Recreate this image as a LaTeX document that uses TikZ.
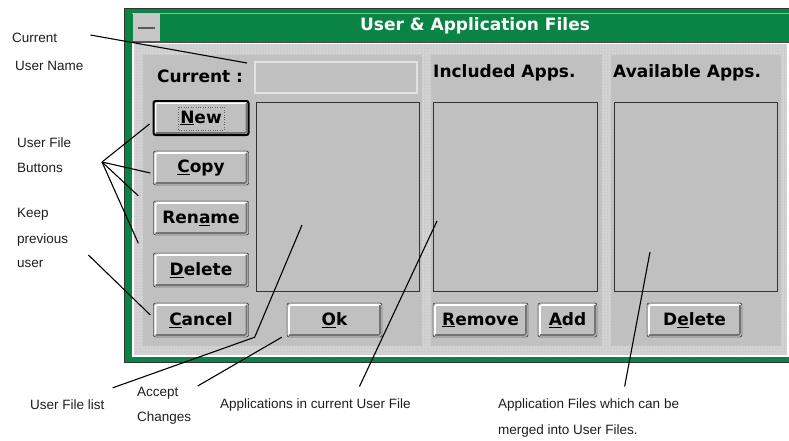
\documentclass[tikz,border=0pt]{standalone}
\usepackage{fontspec}
\usetikzlibrary{patterns}
\newfontfamily\uifont{DejaVu Sans}
\newfontfamily\notefont{Liberation Sans}

\begin{document}
\begin{tikzpicture}[x=1pt,y=-1pt,
  winbtn/.style={draw=black, fill=panelGray, rounded corners=2pt,
    minimum width=95pt, minimum height=34pt, inner sep=0pt,
    font=\uifont\bfseries\fontsize{17}{20}\selectfont,
    path picture={
      \draw[white, line width=1.6pt]
        ([shift={(2pt,2pt)}]path picture bounding box.south west)
        |- ([shift={(-2pt,-2pt)}]path picture bounding box.north east);
      \draw[black!55, line width=1.6pt]
        ([shift={(2pt,2pt)}]path picture bounding box.south west)
        -| ([shift={(-2pt,-2pt)}]path picture bounding box.north east);
    }},
  listbox/.style={draw=black!80, fill=panelGray, line width=1pt,
    inner sep=0pt},
  field/.style={draw=fieldEdge, fill=panelGray, line width=2pt, inner sep=0pt},
  heading/.style={anchor=west, inner sep=0pt,
    font=\uifont\bfseries\fontsize{17}{20}\selectfont},
  note/.style={anchor=west, inner sep=0pt, text=noteGray,
    font=\notefont\fontsize{13.5}{16}\selectfont},
  leader/.style={draw=black, line width=1.1pt}]
% Colors
\definecolor{winGreen}{RGB}{10,132,68}
\definecolor{lightGreen}{RGB}{120,200,150}
\definecolor{panelGray}{RGB}{192,192,192}
\definecolor{frameGray}{RGB}{205,205,205}
\definecolor{fieldEdge}{RGB}{226,226,226}
\definecolor{noteGray}{RGB}{30,30,30}
\useasboundingbox (0,0) rectangle (789,440);
% Window frame and title bar
\fill[winGreen] (124,8) rectangle (789,362);
\draw[black!80, line width=0.8pt] (789,8) -- (124,8) -- (124,362) -- (789,362);
\fill[white] (132,42) rectangle (789,357);
\fill[frameGray] (134,44) rectangle (787,355);
\fill[pattern=dots, pattern color=white] (134,44) rectangle (787,355);
\draw[lightGreen, line width=1.5pt] (132,13.5) -- (789,13.5);
\draw[black!70] (132,42) -- (789,42);
\fill[gray!45] (133,13) rectangle (160,41);
\draw[black!65, line width=2.5pt] (138,28) -- (155,28);
\node[text=white, font=\uifont\bfseries\fontsize{17}{20}\selectfont]
  (title) at (475,26) {User \& Application Files};
% Panels
\begin{scope}[panelGray]
	\fill (143,55) rectangle (422,346); % users
	\fill (431,55) rectangle (602,346); % included
	\fill (611,55) rectangle (781,346); % available
\end{scope}
% Headings, field and lists
\node[heading] (curlabel) at (157,76) {Current :};
\node[heading] (inclabel) at (433,73) {Included Apps.};
\node[heading] (avalabel) at (613,73) {Available Apps.};
\node[field, minimum width=162pt, minimum height=31pt] (curfield) at (336,77.5) {};
\node[listbox, minimum width=163pt, minimum height=189pt] (userlist) at (337.5,196.5) {};
\node[listbox, minimum width=164pt, minimum height=189pt] (inclist) at (515,196.5) {};
\node[listbox, minimum width=163pt, minimum height=189pt] (avalist) at (695.5,196.5) {};
% Buttons
\node[winbtn, line width=2pt] (new) at (201,118) {\underline{N}ew};
\draw[black!60, dotted] (178,107) rectangle (224,130);
\node[winbtn] (copy)   at (201,168) {\underline{C}opy};
\node[winbtn] (rename) at (201,218) {Ren\underline{a}me};
\node[winbtn] (delete) at (201,270) {\underline{D}elete};
\node[winbtn] (cancel) at (201,320) {\underline{C}ancel};
\node[winbtn] (ok)     at (334.5,320) {\underline{O}k};
\node[winbtn] (remove) at (480.5,320) {\underline{R}emove};
\node[winbtn, minimum width=59pt] (add) at (567.5,320) {\underline{A}dd};
\node[winbtn] (avadelete) at (694.5,320) {D\underline{e}lete};
% Notes
\node[note] (curA)   at (12,38)  {Current};
\node[note] (curB)   at (15,66)  {User Name};
\node[note] (ufA)    at (17,143) {User File};
\node[note] (ufB)    at (17,168) {Buttons};
\node[note] (kpA)    at (17,214) {Keep};
\node[note] (kpB)    at (17,240) {previous};
\node[note] (kpC)    at (17,264) {user};
\node[note] (uflist) at (30,405) {User File list};
\node[note] (accA)   at (137,393) {Accept};
\node[note] (accB)   at (137,418) {Changes};
\node[note] (appcur) at (220,405) {Applications in current User File};
\node[note] (appfA)  at (498,405) {Application Files which can be};
\node[note] (appfB)  at (498,431) {merged into User Files.};
% Leader lines
\coordinate (btnapex) at (102,162);
\coordinate (userlistpt) at (302,225);
\coordinate (inclistpt) at (437,221);
\coordinate (avalistpt) at (650,252);
\draw[leader] ([xshift=33pt,yshift=3pt]curA.east) -- ([xshift=-7pt,yshift=-2pt]curfield.north west);
\draw[leader] (btnapex) -- ([xshift=-3pt,yshift=-6pt]new.west);
\draw[leader] (btnapex) -- ([xshift=-3pt,yshift=-5pt]copy.west);
\draw[leader] (btnapex) -- ([xshift=-15pt,yshift=5pt]rename.north west);
\draw[leader] (btnapex) -- ([xshift=-15pt,yshift=-8pt]rename.south west);
\draw[leader] ([xshift=20pt,yshift=-15pt]kpB.east) -- ([xshift=-3pt,yshift=5pt]cancel.west);
\draw[leader] ([xshift=8pt,yshift=12pt]uflist.north east) -- ([xshift=6pt]cancel.south east) -- (userlistpt);
\draw[leader] ([xshift=19pt,yshift=7pt]accA.east) -- ([xshift=-5pt]ok.south west);
\draw[leader] ([xshift=44pt,yshift=12pt]appcur.north) -- (inclistpt);
\draw[leader] ([xshift=36pt,yshift=12pt]appfA.north) -- (avalistpt);
\end{tikzpicture}
\end{document}
